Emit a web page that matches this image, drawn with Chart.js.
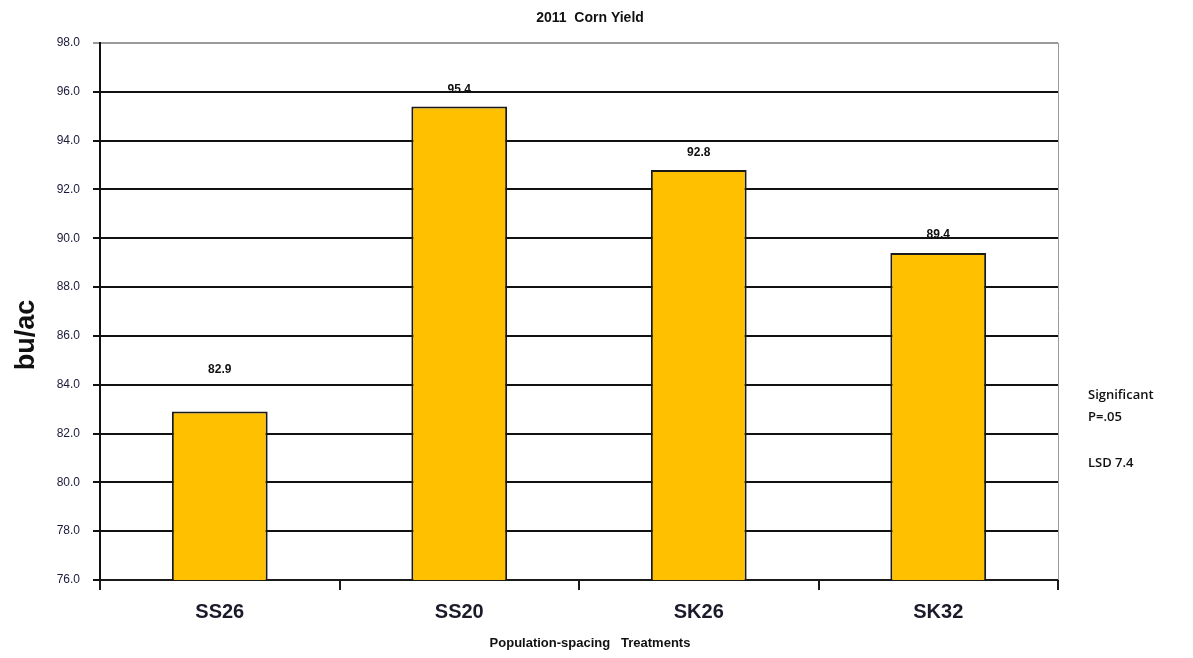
<!DOCTYPE html>
<html>
<head>
<meta charset="utf-8">
<script src="https://cdn.jsdelivr.net/npm/chart.js@4"></script>
<style>
  html, body { margin: 0; padding: 0; background: #fff; }
  canvas { display: block; }
</style>
</head>
<body>
<canvas id="myChart" width="1193" height="658"></canvas>
<script>
// 2011 corn yield by population-spacing treatment
const treatments = ['SS26', 'SS20', 'SK26', 'SK32'];
const yieldBuAc = [82.9, 95.4, 92.8, 89.4];
const yMin = 76;
const yMax = 98;
const notes = ['Significant', 'P=.05', '', 'LSD 7.4'];

const FONT = 'Arial, "Liberation Sans", sans-serif';

// gap between each bar top and its value label
const labelLift = [42, 17, 17, 18];

const textPlugin = {
    id: 'textPlugin',
    afterDatasetsDraw(chart) {
        const ctx = chart.ctx;
        const area = chart.chartArea;
        const meta = chart.getDatasetMeta(0);
        ctx.save();

        // right border of the plot
        ctx.strokeStyle = '#9a9a9a';
        ctx.lineWidth = 1;
        ctx.beginPath();
        ctx.moveTo(area.right + 0.5, area.top);
        ctx.lineTo(area.right + 0.5, area.bottom);
        ctx.stroke();

        // value labels
        ctx.fillStyle = '#111';
        ctx.font = 'bold 12px ' + FONT;
        ctx.textAlign = 'center';
        ctx.textBaseline = 'middle';
        meta.data.forEach(function (bar, i) {
            ctx.fillText(yieldBuAc[i].toFixed(1), bar.x, bar.y - labelLift[i]);
        });

        // title
        ctx.font = 'bold 14px ' + FONT;
        ctx.fillText('2011  Corn Yield', 590, 18);

        // x axis title
        ctx.font = 'bold 13px ' + FONT;
        ctx.fillText('Population-spacing   Treatments', 590, 643);

        // y axis title
        ctx.save();
        ctx.translate(27, 335);
        ctx.rotate(-Math.PI / 2);
        ctx.font = 'bold 27px ' + FONT;
        ctx.fillText('bu/ac', 0, 0);
        ctx.restore();

        // significance note
        ctx.font = '600 13px "Open Sans", ' + FONT;
        ctx.textAlign = 'left';
        notes.forEach(function (t, i) {
            if (t) ctx.fillText(t, 1088, 395 + i * 22.7);
        });
        ctx.restore();
    }
};

const data = {
    labels: treatments,
    datasets: [{
        data: yieldBuAc,
        backgroundColor: '#FFC000',
        borderColor: '#1a1a1a',
        borderWidth: 2,
        borderSkipped: 'bottom',
        categoryPercentage: 1.0,
        barPercentage: 0.4
    }]
};

const config = {
    type: 'bar',
    data: data,
    plugins: [textPlugin],
    options: {
        responsive: false,
        animation: false,
        layout: {
            padding: { top: 43, right: 135, left: 0, bottom: 0 }
        },
        plugins: {
            legend: { display: false },
            tooltip: { enabled: false }
        },
        scales: {
            x: {
                afterFit: function (scale) { scale.height = 78; },
                grid: {
                    offset: true,
                    drawOnChartArea: false,
                    drawTicks: true,
                    tickLength: 10,
                    color: '#1a1a1a',
                    lineWidth: 2
                },
                border: { color: '#1a1a1a', width: 2 },
                ticks: {
                    color: '#1a1a2a',
                    padding: 10,
                    font: { family: FONT, size: 20, weight: 'bold' }
                }
            },
            y: {
                min: yMin,
                max: yMax,
                afterFit: function (scale) { scale.width = 100; },
                grid: {
                    color: function (c) {
                        return c.tick && c.tick.value === yMax ? '#9a9a9a' : '#111';
                    },
                    lineWidth: 2,
                    tickLength: 7
                },
                border: { color: '#111', width: 2 },
                ticks: {
                    stepSize: 2,
                    padding: 13,
                    color: '#1a1a3a',
                    font: { family: FONT, size: 12 },
                    callback: function (v) { return v.toFixed(1); }
                }
            }
        }
    }
};

const myChart = new Chart(document.getElementById('myChart'), config);
</script>
</body>
</html>
